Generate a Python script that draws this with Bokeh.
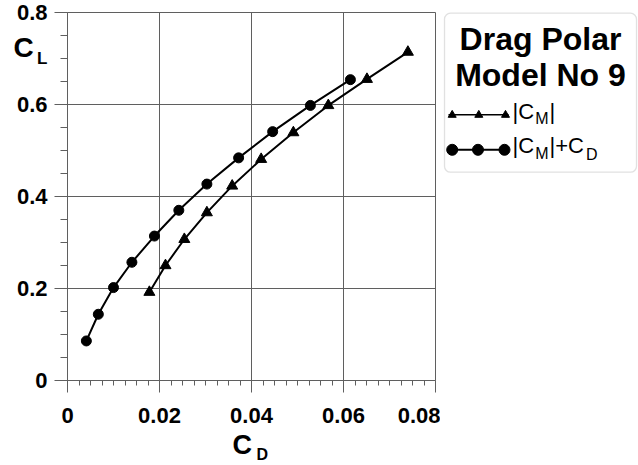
from bokeh.plotting import figure
from bokeh.layouts import row
from bokeh.models import Range1d, FixedTicker, Label, BoxAnnotation
from bokeh.core.properties import value
from bokeh.embed import file_html
from bokeh.resources import INLINE

FONT = "Liberation Sans"
GRID = "#5f5f5f"

# Drag polar of Model No 9: lift coefficient against drag coefficient
cd_cm = [0.0178, 0.0213, 0.0254, 0.0303, 0.0358, 0.0421, 0.0491, 0.0567, 0.0651, 0.0740]
cl_cm = [0.192, 0.250, 0.307, 0.365, 0.423, 0.481, 0.539, 0.598, 0.655, 0.714]

cd_cm_plus_cd = [0.0041, 0.0067, 0.0100, 0.0140, 0.0189, 0.0242, 0.0303, 0.0372, 0.0446, 0.0528, 0.0615]
cl_cm_plus_cd = [0.086, 0.144, 0.202, 0.257, 0.314, 0.370, 0.427, 0.484, 0.541, 0.598, 0.654]

x_ticks = [0.0, 0.02, 0.04, 0.06, 0.08]
x_tick_labels = ["0", "0.02", "0.04", "0.06", "0.08"]
y_ticks = [0.0, 0.2, 0.4, 0.6, 0.8]
y_tick_labels = ["0", "0.2", "0.4", "0.6", "0.8"]

x_minor = [i * 0.0025 for i in range(33) if i % 8]
y_minor = [i * 0.05 for i in range(17) if i % 4]

# plot area: 368 x 368 px, 67 px from the left, 12 px from the top
W, H = 440, 465
LEFT, TOP, SIDE = 67, 12, 368
sx = (x_ticks[-1] - x_ticks[0]) / SIDE
sy = (y_ticks[-1] - y_ticks[0]) / SIDE
x_range = Range1d(x_ticks[0] - LEFT * sx, x_ticks[0] + (W - LEFT) * sx)
y_range = Range1d(y_ticks[-1] - (H - TOP) * sy, y_ticks[-1] + TOP * sy)

p = figure(width=W, height=H, x_range=x_range, y_range=y_range,
           output_backend="svg", toolbar_location=None, min_border=0)
p.background_fill_color = "white"
p.border_fill_color = "white"
p.outline_line_color = None

p.xaxis.ticker = FixedTicker(ticks=x_ticks, minor_ticks=x_minor)
p.yaxis.ticker = FixedTicker(ticks=y_ticks, minor_ticks=y_minor)
p.xaxis.major_label_overrides = dict(zip(x_ticks, x_tick_labels))
p.yaxis.major_label_overrides = dict(zip(y_ticks, y_tick_labels))
p.xaxis.fixed_location = y_ticks[0]
p.yaxis.fixed_location = x_ticks[0]
p.xaxis.bounds = (x_ticks[0], x_ticks[-1])
p.yaxis.bounds = (y_ticks[0], y_ticks[-1])

for ax in (p.xaxis, p.yaxis):
    ax.axis_line_color = GRID
    ax.major_tick_line_color = GRID
    ax.minor_tick_line_color = GRID
    ax.major_tick_in = 0
    ax.minor_tick_in = 0
    ax.major_label_text_font = FONT
    ax.major_label_text_font_style = "bold"
    ax.major_label_text_font_size = "22px"
    ax.major_label_text_color = "black"

p.xaxis.major_tick_out = 12
p.xaxis.minor_tick_out = 5
p.xaxis.major_label_standoff = 15
p.yaxis.major_tick_out = 13
p.yaxis.minor_tick_out = 7
p.yaxis.major_label_standoff = 7

p.xgrid.cross_bounds = (y_ticks[0], y_ticks[-1])
p.ygrid.cross_bounds = (x_ticks[0], x_ticks[-1])
p.grid.grid_line_color = GRID
p.grid.grid_line_width = 1

# |CM| series (triangles) and |CM|+CD series (circles)
p.line(cd_cm, cl_cm, line_color="black", line_width=2)
p.scatter(cd_cm, cl_cm, marker="triangle", size=11, color="black")
p.line(cd_cm_plus_cd, cl_cm_plus_cd, line_color="black", line_width=2)
p.scatter(cd_cm_plus_cd, cl_cm_plus_cd, marker="circle", size=10, color="black")

# axis titles with subscripts (screen units, origin at bottom-left)
def screen_label(x, y, text, size):
    return Label(x=x, y=y, x_units="screen", y_units="screen", text=text,
                 text_font=FONT, text_font_style="bold", text_font_size=size,
                 text_color="black", text_align="left", text_baseline="alphabetic")

p.add_layout(screen_label(13, H - 46.7, "C", "28px"))
p.add_layout(screen_label(36.5, H - 57.5, "L", "17px"))
p.add_layout(screen_label(232, H - 444.3, "C", "27px"))
p.add_layout(screen_label(256, H - 454, "D", "16px"))

# legend panel, drawn in pixel coordinates (y downward)
leg = figure(width=198, height=465, x_range=Range1d(0, 198), y_range=Range1d(465, 0),
             output_backend="svg", toolbar_location=None,
             x_axis_type=None, y_axis_type=None, min_border=0)
leg.outline_line_color = None
leg.background_fill_color = "white"
leg.border_fill_color = "white"
leg.grid.visible = False

leg.add_layout(BoxAnnotation(left=4, right=196, top=12.7, bottom=171.7,
                             fill_color="white", fill_alpha=1,
                             line_color="#9a9a9a", line_width=1.3, border_radius=6,
                             level="underlay"))

leg.text(x=[100, 100], y=[38.3, 74.7], text=["Drag Polar", "Model No 9"],
         text_align="center", text_baseline="alphabetic",
         text_font=value(FONT), text_font_style="bold", text_font_size="32px",
         text_color="black")

leg.line([8, 68], [114.3, 114.3], line_color="black", line_width=1.5)
leg.scatter([11.7, 38.3, 65], [114.5, 114.5, 114.5], marker="triangle", size=8, color="black")
leg.line([8, 68], [149.3, 149.3], line_color="black", line_width=2)
leg.scatter([11.7, 37.5, 64], [149.3, 149.3, 149.3], marker="circle", size=11, color="black")

leg.text(x=[72, 109, 72, 109], y=[110.7, 110.7, 145.3, 145.3],
         text=["|C", "|", "|C", "|+C"],
         text_align="left", text_baseline="alphabetic",
         text_font=value(FONT), text_font_size="22px", text_color="black")
leg.text(x=[94.7, 94.7, 145.5], y=[117.7, 152.7, 153.7], text=["M", "M", "D"],
         text_align="left", text_baseline="alphabetic",
         text_font=value(FONT), text_font_size="16px", text_color="black")

layout = row(p, leg, spacing=0)
open("out.html", "w").write(file_html(layout, INLINE))
